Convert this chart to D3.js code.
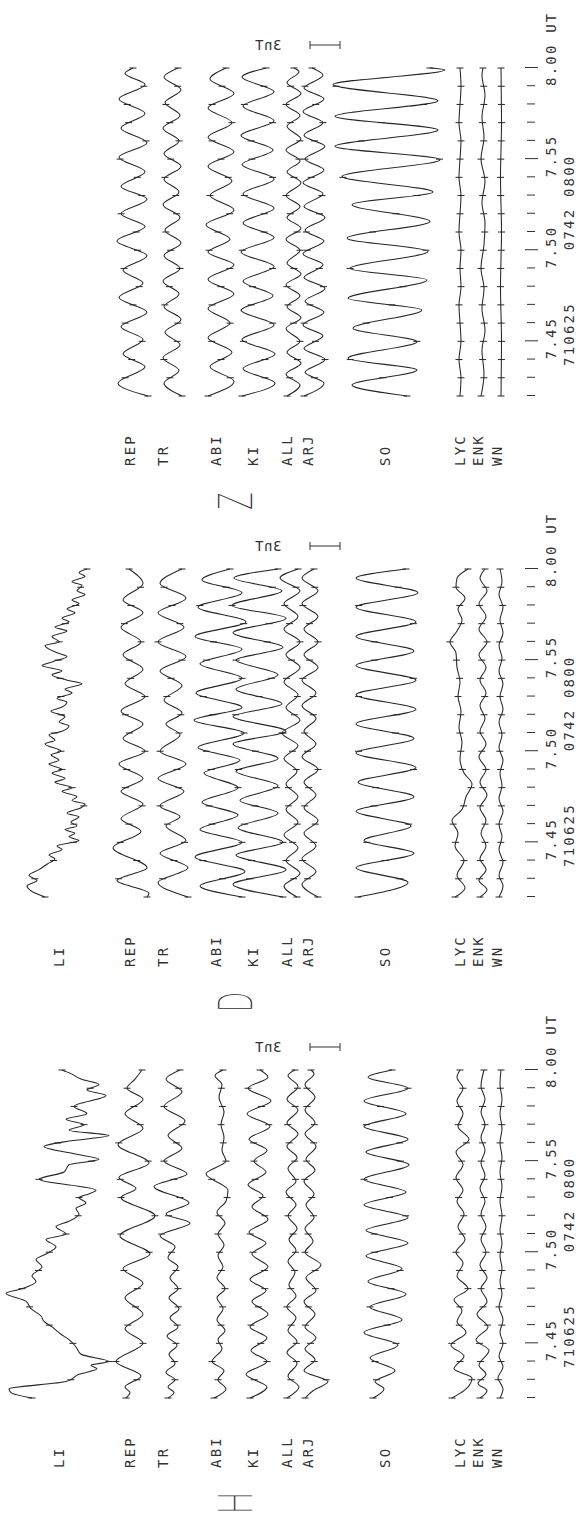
<!DOCTYPE html>
<meta charset="utf-8">
<style>
  body { margin: 0; background: #fff; }
  svg { display: block; }
  .trace { fill: none; stroke: #262626; stroke-width: 1.05; }
  .mtick { stroke: #262626; stroke-width: 1; }
  text { font-family: "DejaVu Sans Mono", monospace; font-size: 14px; fill: #333; letter-spacing: 2.2px; }
  .big { font-family: Roboto, sans-serif; font-weight: 100; font-size: 48px; letter-spacing: 0; fill: #333; }
  .axis line { stroke: #333; }
  .bar { stroke: #333; stroke-width: 1; }
</style>
<body>
<script src="https://d3js.org/d3.v7.min.js"></script>
<script>
// stations, top to bottom of each panel
const stations = ["LI", "REP", "TR", "ABI", "KI", "ALL", "ARJ", "SO", "LYC", "ENK", "WN"];
const components = ["H", "D", "Z"];
// time axis, minutes after 07:42 UT
const minutes = d3.range(0, 19);
const majorMinutes = [3, 8, 13, 18];
const tickLabels = ["7.45", "7.50", "7.55", "8.00 UT"];
const dateLabel = "710625";
const spanLabel = "0742 0800";
const scaleLabel = "3nT";
const scaleValue = 30; // 0.1 nT units

// traces: [minute, value in 0.1 nT]  (extremes)
const H_LI = [[0,-25],[0.3,-46],[0.5,-48],[0.9,9],[1.3,22],[1.6,40],[1.8,34],[2.0,52],[2.4,24],[2.8,19],[3.2,12],[3.5,4],[3.9,-5],[4.2,-13],[4.5,-16],[4.9,-26],[5.3,-31],[5.75,-51],[6.0,-35],[6.4,-21],[6.7,-25],[7.2,-15],[7.6,-21],[7.9,-11],[8.3,-1],[8.7,-11],[9.0,9],[9.4,-1],[9.7,12],[10.1,22],[10.4,19],[10.7,29],[11.0,22],[11.2,32],[11.4,39],[12.0,-18],[12.4,7],[12.8,12],[13.1,42],[13.4,17],[13.8,-13],[14.1,12],[14.4,52],[14.7,12],[15.0,27],[15.3,9],[15.6,30],[16.0,17],[16.6,49],[16.9,30],[17.2,42],[17.5,24],[17.8,14],[18.0,5]];
const H_REP = [[0,-7],[0.3,-3],[0.6,-8],[1.2,8],[2.0,-17],[3.0,10],[3.8,-8],[4.6,10],[5.5,-8],[6.3,10],[7.1,-10],[7.9,17],[8.9,-13],[10.0,22],[11.0,-12],[11.5,3],[12.1,-14],[12.9,16],[13.9,-15],[14.8,10],[15.6,-8],[16.4,10],[17.0,-6],[17.5,2],[18,9]];
const H_TR = [[0,-4],[0.3,2],[0.6,-4],[1.0,3],[1.4,-6],[1.9,3],[2.4,-3],[2.9,5],[3.4,-5],[3.9,6],[4.4,-2],[4.9,7],[5.5,-3],[6.0,6],[6.6,-2],[7.2,6],[7.7,-4],[8.3,3],[8.9,-12],[9.6,18],[10.1,-6],[10.7,17],[11.6,-18],[12.3,15],[13.0,-8],[13.7,10],[14.4,-4],[15.2,13],[16.0,-8],[16.8,10],[17.5,-6],[18,8]];
const H_ABI = [[0,-6],[0.5,6],[1.0,-2],[1.5,4],[2.0,-8],[2.7,2],[3.2,-2],[3.7,5],[4.3,-3],[4.9,3],[5.5,-3],[6.0,5],[6.6,-3],[7.2,3],[7.8,-2],[8.4,4],[9.0,-2],[9.6,5],[10.2,-3],[10.8,6],[11.4,8],[12.3,-14],[13.0,6],[13.6,2],[14.3,4],[15.0,1],[15.7,4],[16.5,-1],[17.2,2],[17.7,-5],[18,3]];
const H_KI = [[0,-8],[0.6,9],[1.3,-12],[2.0,9],[2.6,-7],[3.3,9],[3.9,-8],[4.6,10],[5.3,-6],[5.9,8],[6.5,-8],[7.2,10],[7.9,-6],[8.5,8],[9.1,-9],[9.8,10],[10.5,-6],[11.1,5],[11.7,-10],[12.4,8],[13.0,-4],[13.6,9],[14.2,-9],[14.9,12],[15.6,-11],[16.3,13],[17.0,-10],[17.6,10],[18,2]];
const H_ALL = [[0,-5],[0.6,7],[1.2,-4],[1.9,5],[2.5,-5],[3.1,5],[3.7,-4],[4.4,4],[5.0,-5],[5.6,4],[6.2,-3],[6.9,3],[7.5,-4],[8.1,4],[8.7,-3],[9.3,5],[10.0,-4],[10.6,4],[11.3,-6],[11.9,4],[12.6,-4],[13.2,5],[13.8,-5],[14.5,6],[15.1,-5],[15.8,6],[16.4,-5],[17.1,6],[17.7,-4],[18,3]];
const H_ARJ = [[0,-5],[0.4,3],[0.9,18],[1.5,-6],[2.1,5],[2.7,-5],[3.3,6],[3.9,-5],[4.6,5],[5.3,-6],[5.9,6],[6.6,-4],[7.3,11],[8.0,-5],[8.6,3],[9.3,-5],[9.9,4],[10.6,-4],[11.2,4],[11.9,-6],[12.5,5],[13.1,-4],[13.8,6],[14.5,-5],[15.1,5],[15.8,-5],[16.5,5],[17.2,-5],[17.8,4],[18,1]];
const H_SO = [[0,-13],[0.5,-2],[0.9,-11],[1.5,9],[2.2,-16],[2.9,12],[3.6,-22],[4.3,16],[5.0,-16],[5.7,20],[6.4,-18],[7.1,16],[7.8,-20],[8.5,22],[9.2,-20],[9.9,22],[10.6,-22],[11.3,20],[12.0,-22],[12.8,23],[13.5,-20],[14.2,22],[14.9,-22],[15.6,20],[16.3,-22],[17.0,22],[17.6,-18],[18,6]];
const H_LYC = [[0,-8],[0.4,4],[1.1,12],[1.6,-6],[2.3,4],[2.9,-9],[3.6,6],[4.2,-3],[4.8,2],[5.4,-6],[6.0,8],[6.7,-3],[7.4,3],[8.0,-4],[8.7,5],[9.4,-2],[10.1,4],[10.8,-3],[11.4,3],[12.1,-4],[12.8,3],[13.5,-4],[14.2,9],[14.9,-2],[15.6,3],[16.3,-3],[17.0,3],[17.6,-3],[18,0]];
const H_ENK = [[0,-3],[0.4,4],[0.8,-5],[1.3,3],[1.8,-4],[2.6,6],[3.2,-7],[3.9,5],[4.6,-6],[5.3,4],[6.0,-2],[6.6,4],[7.3,-3],[8.0,3],[8.7,-2],[9.4,3],[10.1,-2],[10.8,2],[11.5,-3],[12.2,2],[12.9,-2],[13.6,2],[14.3,-2],[15.0,2],[15.7,-2],[16.4,2],[17.1,-2],[18,1]];
const H_WN = [[0,-1],[0.5,2],[1.1,-3],[1.7,2],[2.3,-2],[3.0,2],[3.6,-1],[4.3,2],[5.0,-2],[5.7,1],[6.4,-1],[7.1,1],[7.8,-1],[8.5,1],[9.2,-1],[10,1],[10.8,-1],[11.6,1],[12.4,-1],[13.2,1],[14,-1],[14.8,1],[15.6,-1],[16.4,1],[17.2,-1],[18,0]];

const D_LI = [[0,-12],[0.3,-25],[0.6,-30],[0.9,-20],[1.2,-28],[1.5,-18],[1.8,-10],[2.1,-2],[2.3,-8],[2.6,5],[2.8,0],[3.1,22],[3.3,12],[3.5,18],[3.7,8],[3.9,20],[4.1,14],[4.4,22],[4.6,10],[4.9,24],[5.1,28],[5.3,15],[5.5,20],[5.8,5],[6.0,15],[6.3,-2],[6.5,8],[6.8,-5],[7.0,5],[7.3,-8],[7.5,2],[7.8,-6],[8.0,4],[8.4,-12],[8.6,-2],[8.9,-8],[9.1,5],[9.4,12],[9.6,2],[9.9,8],[10.2,-6],[10.4,4],[10.7,10],[10.9,0],[11.2,15],[11.4,8],[11.7,25],[11.9,10],[12.2,-5],[12.4,5],[12.7,-15],[12.9,-5],[13.2,10],[13.4,0],[13.8,-12],[14.0,2],[14.3,-5],[14.6,10],[14.8,-2],[15.1,12],[15.3,5],[15.6,18],[15.8,10],[16.1,22],[16.3,15],[16.6,28],[16.8,20],[17.1,25],[17.3,15],[17.6,28],[17.8,22],[18,30]];
const D_REP = [[0,14],[0.2,16],[0.9,-16],[1.6,14],[2.7,-20],[3.6,8],[4.3,-12],[5.1,10],[5.8,-12],[6.5,10],[7.3,-14],[8.0,12],[8.7,-10],[9.5,10],[10.2,-12],[11.0,12],[11.7,-8],[12.5,10],[13.3,-10],[14.0,8],[14.8,-12],[15.6,10],[16.3,-10],[17.2,10],[18,-4]];
const D_TR = [[0,16],[0.8,-14],[1.6,16],[2.4,-12],[3.1,14],[3.9,-6],[4.4,8],[5.0,-12],[5.8,12],[6.5,-14],[7.3,14],[8.0,-12],[8.9,8],[9.5,-6],[10.1,10],[10.8,-8],[11.6,10],[12.4,-12],[13.2,14],[14.0,-14],[14.8,12],[15.6,-14],[16.4,14],[17.2,-12],[18,10]];
const D_ABI = [[0,22],[0.6,-20],[1.4,25],[2.2,-25],[3.0,22],[3.7,-20],[4.5,18],[5.2,-18],[6.0,18],[6.8,-16],[7.5,20],[8.2,-22],[9.0,24],[9.7,-26],[10.4,22],[11.2,-24],[12.0,22],[12.8,-20],[13.6,22],[14.3,-25],[15.1,26],[15.9,-22],[16.7,22],[17.4,-18],[18,10]];
const D_KI = [[0,25],[0.7,-25],[1.5,28],[2.3,-22],[3.0,25],[3.8,-20],[4.6,20],[5.3,-18],[6.1,20],[6.9,-22],[7.6,20],[8.4,-25],[9.1,28],[9.9,-25],[10.6,24],[11.4,-22],[12.2,20],[13.0,-22],[13.7,25],[14.5,-25],[15.3,28],[16.0,-26],[16.8,24],[17.5,-24],[18,20]];
const D_ALL = [[0,5],[0.6,-8],[1.3,8],[2.0,-6],[2.7,6],[3.4,-8],[4.1,6],[4.8,-6],[5.5,6],[6.2,-6],[6.9,5],[7.6,-8],[8.3,6],[9.0,-10],[9.7,8],[10.4,-6],[11.1,6],[11.8,-8],[12.6,8],[13.3,-6],[14.0,8],[14.7,-8],[15.4,6],[16.1,-8],[16.8,8],[17.5,-12],[18,6]];
const D_ARJ = [[0,8],[0.7,-8],[1.4,6],[2.1,-8],[2.8,6],[3.5,-6],[4.2,8],[4.9,-6],[5.6,6],[6.3,-6],[7.0,8],[7.7,-8],[8.4,6],[9.1,-6],[9.8,6],[10.5,-8],[11.2,6],[11.9,-8],[12.6,8],[13.3,-6],[14.0,8],[14.7,-6],[15.4,8],[16.1,-8],[16.8,8],[17.5,-8],[18,4]];
const D_SO = [[0,-28],[0.8,22],[1.6,-30],[2.4,28],[3.1,-22],[3.9,25],[4.7,-30],[5.5,28],[6.3,-28],[7.1,30],[7.9,-30],[8.7,28],[9.5,-30],[10.3,30],[11.1,-30],[11.9,30],[12.7,-30],[13.5,28],[14.3,-30],[15.1,30],[15.9,-30],[16.7,32],[17.5,-30],[18,20]];
const D_LYC = [[0,-5],[0.5,5],[1.2,-3],[2.0,4],[2.8,-5],[3.5,-2],[4.2,-8],[4.8,2],[5.5,6],[6.2,12],[6.8,4],[7.6,0],[8.5,2],[9.3,-1],[10.2,1],[11.0,-2],[11.8,0],[12.6,-3],[13.4,-4],[14.0,-10],[14.6,-3],[15.2,2],[15.8,-2],[16.4,5],[17.0,-4],[17.5,-3],[18,8]];
const D_ENK = [[0,-3],[0.4,4],[0.9,-4],[1.5,3],[2.1,-3],[2.8,3],[3.5,-2],[4.2,3],[4.9,-3],[5.6,4],[6.3,-3],[7.0,3],[7.7,-4],[8.4,3],[9.1,-3],[9.8,2],[10.5,-3],[11.2,3],[11.9,-3],[12.6,3],[13.3,-4],[14.0,4],[14.7,-4],[15.4,3],[16.1,-4],[16.8,4],[17.5,-3],[18,2]];
const D_WN = [[0,-2],[0.6,2],[1.2,-2],[1.9,2],[2.6,-2],[3.3,1],[4.0,-2],[4.7,2],[5.4,-2],[6.1,1],[6.8,-1],[7.5,2],[8.2,-2],[8.9,1],[9.6,-2],[10.3,2],[11.0,-1],[11.7,2],[12.4,-2],[13.1,1],[13.8,-2],[14.5,2],[15.2,-1],[15.9,2],[16.6,-2],[17.3,1],[18,-1]];

const Z_REP = [[0,15],[0.7,-15],[1.6,12],[2.3,-10],[3.1,10],[3.8,-12],[4.6,14],[5.4,-14],[6.2,10],[6.9,-10],[7.7,14],[8.5,-16],[9.3,12],[10.0,-12],[10.8,14],[11.5,-12],[12.3,12],[13.1,-14],[13.9,14],[14.7,-12],[15.5,12],[16.3,-14],[17.1,12],[17.7,-8],[18,0]];
const Z_TR = [[0,10],[0.7,-8],[1.4,7],[2.1,-9],[2.8,8],[3.5,-7],[4.2,9],[4.9,-8],[5.6,7],[6.3,-9],[7.0,8],[7.7,-8],[8.4,9],[9.1,-7],[9.8,8],[10.5,-9],[11.2,7],[11.9,-8],[12.6,9],[13.3,-8],[14.0,7],[14.7,-9],[15.4,8],[16.1,-7],[16.8,9],[17.5,-8],[18,6]];
const Z_ABI = [[0,-12],[0.8,14],[1.6,-10],[2.4,12],[3.2,-12],[4.0,10],[4.8,-12],[5.6,14],[6.4,-12],[7.2,14],[7.9,-12],[8.6,10],[9.4,-14],[10.2,14],[11.0,-10],[11.8,12],[12.6,-12],[13.4,14],[14.2,-12],[15.0,12],[15.8,-12],[16.6,14],[17.4,-10],[18,6]];
const Z_KI = [[0,-16],[0.7,17],[1.5,-15],[2.3,17],[3.1,-16],[3.9,16],[4.7,-17],[5.5,15],[6.3,-15],[7.1,16],[7.9,-17],[8.7,16],[9.5,-15],[10.3,16],[11.1,-15],[11.9,16],[12.7,-16],[13.5,15],[14.3,-17],[15.1,16],[15.9,-15],[16.7,16],[17.5,-16],[18,8]];
const Z_ALL = [[0,-5],[0.6,8],[1.2,-6],[1.8,9],[2.4,-5],[3.0,8],[3.7,-6],[4.3,9],[4.9,-5],[5.5,8],[6.1,-6],[6.7,9],[7.3,-5],[8.0,8],[8.6,-6],[9.2,9],[9.8,-5],[10.4,8],[11.0,-6],[11.7,9],[12.3,-5],[12.9,8],[13.5,-6],[14.1,9],[14.8,-5],[15.4,8],[16.0,-6],[16.6,9],[17.2,-5],[17.8,7],[18,2]];
const Z_ARJ = [[0,-6],[0.7,14],[1.3,-5],[2.0,15],[2.6,-6],[3.3,13],[3.9,-7],[4.6,14],[5.2,-5],[5.9,15],[6.5,-6],[7.2,13],[7.8,-7],[8.5,14],[9.1,-5],[9.8,15],[10.4,-6],[11.1,13],[11.7,-7],[12.4,14],[13.0,-5],[13.7,15],[14.3,-6],[15.0,13],[15.6,-7],[16.3,14],[16.9,-6],[17.6,13],[18,2]];
const Z_SO = [[0,21],[0.6,-34],[1.43,31],[2.07,-38],[2.98,31],[3.72,-33],[4.72,36],[5.36,-38],[6.37,41],[7.0,-36],[7.93,42],[8.66,-39],[9.58,44],[10.5,-34],[11.2,47],[12.05,-44],[12.97,54],[13.7,-51],[14.6,52],[15.35,-51],[16.2,52],[17.09,-53],[17.9,59],[18,44]];
const Z_LYC = [[0,0],[1,1],[2,-1],[3,1],[4,0],[5,-1],[6,1],[7,0],[8,1],[9,-1],[10,0],[11,1],[12,-1],[13,0],[14,1],[15,-1],[16,0],[17,1],[18,0]];
const Z_ENK = [[0,-2],[1.2,1],[2.5,-1],[3.6,2],[4.8,-1],[5.9,1],[7.0,-2],[8.3,1],[9.5,2],[10.6,-1],[11.8,2],[13.0,-2],[14.2,1],[15.3,-1],[16.5,2],[17.6,-1],[18,0]];
const Z_WN = [[0,0],[3,0.5],[6,-0.5],[9,0.5],[12,-0.5],[15,0.5],[18,0]];

const panelTraces = {
  H: { LI: H_LI, REP: H_REP, TR: H_TR, ABI: H_ABI, KI: H_KI, ALL: H_ALL, ARJ: H_ARJ, SO: H_SO, LYC: H_LYC, ENK: H_ENK, WN: H_WN },
  D: { LI: D_LI, REP: D_REP, TR: D_TR, ABI: D_ABI, KI: D_KI, ALL: D_ALL, ARJ: D_ARJ, SO: D_SO, LYC: D_LYC, ENK: D_ENK, WN: D_WN },
  Z: { REP: Z_REP, TR: Z_TR, ABI: Z_ABI, KI: Z_KI, ALL: Z_ALL, ARJ: Z_ARJ, SO: Z_SO, LYC: Z_LYC, ENK: Z_ENK, WN: Z_WN }
};

// ---- layout (landscape frame, then turned a quarter left) ----
const W = 579, HT = 1520;
const panelStart = { H: 122, D: 623, Z: 1124 };   // u of 07:42 in each panel
const rowPos = { LI: 57, REP: 133, TR: 172, ABI: 220, KI: 258, ALL: 292, ARJ: 310, SO: 386, LYC: 460, ENK: 483, WN: 501 };
const labelPos = { LI: 59, REP: 130, TR: 163, ABI: 216, KI: 253, ALL: 287, ARJ: 308, SO: 385, LYC: 460, ENK: 478, WN: 497 };

const svg = d3.select("body").append("svg").attr("width", W).attr("height", HT);
svg.append("rect").attr("width", W).attr("height", HT).attr("fill", "#fff");
const land = svg.append("g").attr("transform", `translate(0,${HT}) rotate(-90)`);

const x = d3.scaleLinear().domain([0, 18]).range([0, 328]);
const amp = d3.scaleLinear().domain([0, 10]).range([0, 10]);

// point on a path at a given u (path runs monotonically along u)
function pointAtU(node, L, u) {
  let lo = 0, hi = L;
  for (let k = 0; k < 22; k++) {
    const mid = (lo + hi) / 2;
    if (node.getPointAtLength(mid).x < u) lo = mid; else hi = mid;
  }
  return node.getPointAtLength((lo + hi) / 2);
}

components.forEach(comp => {
  const g = land.append("g").attr("transform", `translate(${panelStart[comp]},0)`);
  const traces = panelTraces[comp];

  Object.keys(traces).forEach(st => {
    const base = rowPos[st];
    const line = d3.line()
      .x(d => x(d[0]))
      .y(d => base + amp(d[1]))
      .curve(d3.curveMonotoneX);
    const path = g.append("path").datum(traces[st]).attr("class", "trace").attr("d", line);

    // minute marks across each trace
    const node = path.node(), L = node.getTotalLength();
    minutes.forEach(m => {
      const u = x(m);
      const p = pointAtU(node, L, u);
      g.append("line").attr("class", "mtick")
        .attr("x1", u).attr("x2", u)
        .attr("y1", p.y - 3.5).attr("y2", p.y + 3.5);
    });

    g.append("text")
      .attr("x", -70).attr("y", labelPos[st])
      .attr("dominant-baseline", "central")
      .text(st);
  });

  // component letter
  g.append("text").attr("class", "big")
    .attr("transform", `translate(-105,236) scale(0.62,1)`)
    .attr("text-anchor", "middle")
    .attr("dominant-baseline", "central")
    .text(comp);

  // time axis
  g.append("g").attr("class", "axis").attr("transform", "translate(0,527)")
    .call(d3.axisBottom(x).tickValues(minutes.filter(m => !majorMinutes.includes(m))).tickSize(8).tickFormat(""))
    .call(a => a.select(".domain").remove());
  g.append("g").attr("class", "axis").attr("transform", "translate(0,525)")
    .call(d3.axisBottom(x).tickValues(majorMinutes).tickSize(13).tickFormat(""))
    .call(a => a.select(".domain").remove());

  majorMinutes.forEach((m, i) => {
    g.append("text").attr("x", x(m) - 18).attr("y", 551)
      .attr("dominant-baseline", "central").text(tickLabels[i]);
  });
  g.append("text").attr("x", x(1.65)).attr("y", 569).attr("dominant-baseline", "central").text(dateLabel);
  g.append("text").attr("x", x(8)).attr("y", 569).attr("dominant-baseline", "central").text(spanLabel);

  // 3 nT scale bar
  const ub = x(18) + 23, v0 = 310, v1 = 310 + amp(scaleValue);
  g.append("line").attr("class", "bar").attr("x1", ub).attr("x2", ub).attr("y1", v0).attr("y2", v1);
  g.append("line").attr("class", "bar").attr("x1", ub - 4).attr("x2", ub + 4).attr("y1", v0).attr("y2", v0);
  g.append("line").attr("class", "bar").attr("x1", ub - 4).attr("x2", ub + 4).attr("y1", v1).attr("y2", v1);
  // label reads mirrored on the sheet
  const sy = HT - (panelStart[comp] + ub);
  svg.append("text")
    .attr("transform", `translate(268,${sy}) scale(-1,1)`)
    .attr("text-anchor", "middle").attr("dominant-baseline", "central")
    .style("letter-spacing", "0.5px")
    .text(scaleLabel);
});
</script>
</body>
